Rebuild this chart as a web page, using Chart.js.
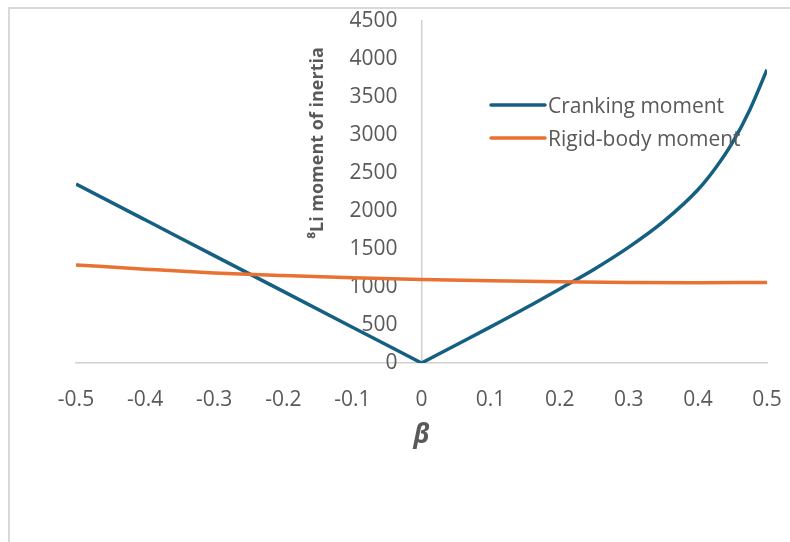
<!DOCTYPE html>
<html>
<head>
<meta charset="utf-8">
<script src="https://cdn.jsdelivr.net/npm/chart.js@4.4.1/dist/chart.umd.min.js"></script>
<style>
  html, body { margin: 0; padding: 0; background: #fff; }
  #wrap { position: relative; width: 790px; height: 542px; overflow: hidden; }
  #frame { position: absolute; left: 8px; top: 7px; width: 900px; height: 700px;
           border-left: 2px solid #d9d9d9; border-top: 2px solid #d9d9d9; }
  canvas { position: absolute; left: 0; top: 0; }
</style>
</head>
<body>
<div id="wrap">
  <div id="frame"></div>
  <canvas id="chart" width="790" height="542"></canvas>
</div>
<script>
// ============ DATA ============
const xTicks = [-0.5, -0.4, -0.3, -0.2, -0.1, 0, 0.1, 0.2, 0.3, 0.4, 0.5];
const yTicks = [0, 500, 1000, 1500, 2000, 2500, 3000, 3500, 4000, 4500];

// cranking moment, beta < 0 (straight branch)
const crankBetaNeg = [-0.5, -0.4, -0.3, -0.2, -0.1, 0];
const crankValNeg  = [2355, 1884, 1413, 942, 471, 0];

// cranking moment, beta >= 0
const crankBetaPos = [0, 0.05, 0.1, 0.15, 0.2, 0.25, 0.3, 0.35, 0.4, 0.425, 0.45, 0.475, 0.5];
const crankValPos  = [0, 237, 475, 720, 975, 1235, 1525, 1860, 2280, 2560, 2900, 3330, 3860];

// rigid-body moment
const rigidBeta = [-0.5, -0.4, -0.3, -0.2, -0.1, 0, 0.1, 0.2, 0.3, 0.4, 0.5];
const rigidVal  = [1290, 1235, 1185, 1150, 1122, 1100, 1082, 1068, 1060, 1057, 1060];

const seriesNames = ['Cranking moment', 'Rigid-body moment'];
const yTitle = '\u2078Li moment of inertia';
const xTitle = '\u03B2';

// ============ STYLE ============
const BLUE = '#156082';
const ORANGE = '#E97132';
const TEXT = '#595959';
const AXIS = '#d0d0d0';
const FONT = "'Open Sans', sans-serif";

const pts = (xs, ys) => xs.map((x, i) => ({ x, y: ys[i] }));

const lineDs = (data, color) => ({
  data, borderColor: color, backgroundColor: color, borderWidth: 3.5,
  pointRadius: 0, cubicInterpolationMode: 'monotone', fill: false,
});

// titles + in-plot legend, drawn on the canvas
const extras = {
  id: 'extras',
  afterDraw(chart) {
    const ctx = chart.ctx;
    const xs = chart.scales.x;
    ctx.save();
    // y title (rotated)
    ctx.fillStyle = TEXT;
    ctx.font = `bold 18px ${FONT}`;
    ctx.textAlign = 'center';
    ctx.textBaseline = 'middle';
    ctx.translate(318, 143);
    ctx.rotate(-Math.PI / 2);
    ctx.fillText(yTitle, 0, 0);
    ctx.restore();

    ctx.save();
    // x title
    ctx.fillStyle = TEXT;
    ctx.font = `italic bold 26px ${FONT}`;
    ctx.textAlign = 'center';
    ctx.textBaseline = 'middle';
    ctx.fillText(xTitle, xs.getPixelForValue(0), 436);

    // legend
    const rows = [[seriesNames[0], BLUE, 105], [seriesNames[1], ORANGE, 138]];
    ctx.font = `21px ${FONT}`;
    ctx.textAlign = 'left';
    rows.forEach(([txt, col, y]) => {
      ctx.strokeStyle = col;
      ctx.lineWidth = 3.5;
      ctx.lineCap = 'round';
      ctx.beginPath(); ctx.moveTo(491, y); ctx.lineTo(545, y); ctx.stroke();
      ctx.fillStyle = TEXT;
      ctx.fillText(txt, 548, y + 2);
    });
    ctx.restore();
  },
};

new Chart(document.getElementById('chart'), {
  type: 'line',
  data: {
    datasets: [
      lineDs(pts(rigidBeta, rigidVal), ORANGE),
      lineDs(pts(crankBetaNeg, crankValNeg), BLUE),
      lineDs(pts(crankBetaPos, crankValPos), BLUE),
    ],
  },
  options: {
    responsive: false, animation: false,
    layout: { padding: { left: 76, right: 23, top: 21, bottom: 119 } },
    plugins: { legend: { display: false }, tooltip: { enabled: false } },
    scales: {
      x: {
        type: 'linear', min: -0.5, max: 0.5,
        afterBuildTicks: (s) => { s.ticks = xTicks.map(v => ({ value: v })); },
        afterFit: (s) => { s.height = 60; s.paddingLeft = 0; s.paddingRight = 0; },
        grid: { display: false, drawTicks: false },
        border: { display: true, color: AXIS, width: 1.5 },
        ticks: { color: TEXT, padding: 24, font: { family: FONT, size: 21 },
                 callback: (v) => String(v) },
      },
      y: {
        min: 0, max: 4500,
        position: { x: 0 },
        afterBuildTicks: (s) => { s.ticks = yTicks.map(v => ({ value: v })); },
        afterFit: (s) => { s.paddingTop = 0; s.paddingBottom = 0; },
        grid: { display: false, drawTicks: false },
        border: { display: true, color: AXIS, width: 1.5 },
        // labels sit right against a centred axis, so the gap is made with spaces
        ticks: { color: TEXT, padding: 0, font: { family: FONT, size: 21 },
                 callback: (v) => String(v) + '    \u200A' },
      },
    },
  },
  plugins: [extras],
});
</script>
</body>
</html>
